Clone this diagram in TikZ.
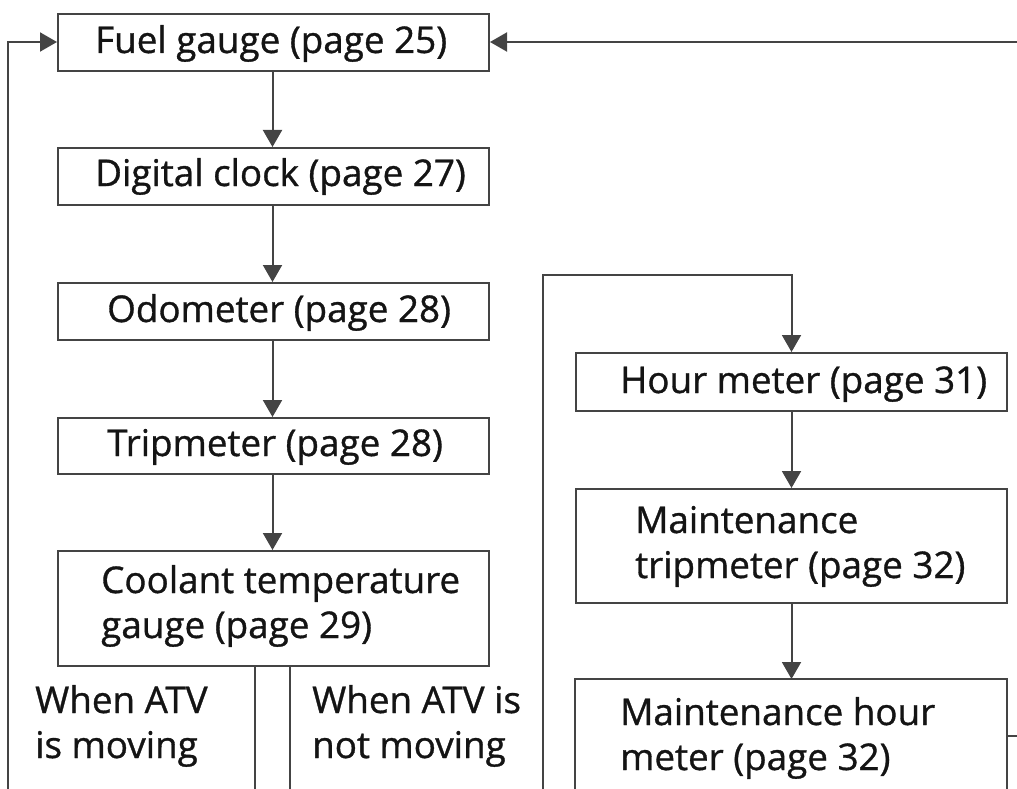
\documentclass[tikz,border=0pt]{standalone}
\usepackage{fontspec}
\setmainfont{Open Sans}[FakeBold=0.9]
\usetikzlibrary{arrows.meta}
\definecolor{linegray}{HTML}{444444}
\definecolor{txtcol}{HTML}{141414}
\tikzset{
  box/.style={draw=linegray, line width=2pt, minimum width=431pt, inner sep=0pt, anchor=north west},
  txt/.style={text=txtcol, font=\fontsize{36.8}{45}\selectfont, inner sep=0pt, anchor=base west, align=left},
  conn/.style={draw=linegray, line width=2pt, -{Triangle[length=17pt,width=19pt]}},
  wire/.style={draw=linegray, line width=2pt}
}
\begin{document}
\begin{tikzpicture}[x=1pt,y=-1pt]
\useasboundingbox (0,0) rectangle (1017,789);
\clip (0,0) rectangle (1017,789);
% left column boxes
\node[box, minimum height=57pt] (fuel) at (57,13) {};
\node[box, minimum height=57pt] (clock) at (57,147) {};
\node[box, minimum height=57pt] (odo) at (57,282) {};
\node[box, minimum height=56pt] (trip) at (57,417) {};
\node[box, minimum height=115pt] (cool) at (57,550) {};
% right column boxes
\node[box, minimum height=58pt] (hour) at (575,352) {};
\node[box, minimum height=114pt] (mtrip) at (575,488) {};
% texts
\node[txt] (tfuel) at (95,53) {Fuel gauge (page 25)};
\node[txt] (tclock) at (95,186) {Digital clock (page 27)};
\node[txt] (todo) at (107,322) {Odometer (page 28)};
\node[txt] (ttrip) at (107,456) {Tripmeter (page 28)};
\node[txt] (tcool) at (101,638) {Coolant temperature\\gauge (page 29)};
\node[txt] (thour) at (620,393) {Hour meter (page 31)};
\node[txt] (tmtrip) at (635,578) {Maintenance\\tripmeter (page 32)};
\node[txt] (tmhour) at (620,770) {Maintenance hour\\meter (page 32)};
\node[txt] (tmov) at (35,758) {When ATV\\is moving};
\node[txt] (tnmov) at (312,758) {When ATV is\\not moving};
% maintenance hour meter box (cut off at bottom)
\coordinate (mh1) at (575,800);
\coordinate (mh2) at (575,679);
\coordinate (mh3) at (1007,679);
\coordinate (mh4) at (1007,800);
\draw[wire] (mh1) -- (mh2) -- (mh3) -- (mh4);
% vertical arrows
\draw[conn] (fuel.south) ++(-1,0) coordinate (a1) -- (a1 |- clock.north);
\draw[conn] (clock.south) ++(-1,0) coordinate (a2) -- (a2 |- odo.north);
\draw[conn] (odo.south) ++(-1,0) coordinate (a3) -- (a3 |- trip.north);
\draw[conn] (trip.south) ++(-1,0) coordinate (a4) -- (a4 |- cool.north);
\draw[conn] (hour.south) coordinate (b1) -- (b1 |- mtrip.north);
\draw[conn] (mtrip.south) coordinate (b2) -- (b2 |- mh2);
% left loop
\coordinate (l0) at (8,800);
\coordinate (l1) at (8,42);
\draw[conn] (l0) -- (l1) -- (l1 -| fuel.west);
% right return
\coordinate (r0) at (1020,42);
\draw[conn] (r0) -- (r0 -| fuel.east);
% lines from coolant
\coordinate (c1) at (255,800);
\coordinate (c2) at (290,800);
\draw[wire] (c1 |- cool.south) -- (c1);
\draw[wire] (c2 |- cool.south) -- (c2);
% line up to hour meter
\coordinate (h0) at (543,800);
\coordinate (h1) at (543,275);
\draw[conn] (h0) -- (h1) -- (h1 -| hour.north) -- (hour.north);
% short stub at right
\coordinate (s0) at (1007,736);
\coordinate (s1) at (1020,736);
\draw[wire] (s0) -- (s1);
\end{tikzpicture}
\end{document}
